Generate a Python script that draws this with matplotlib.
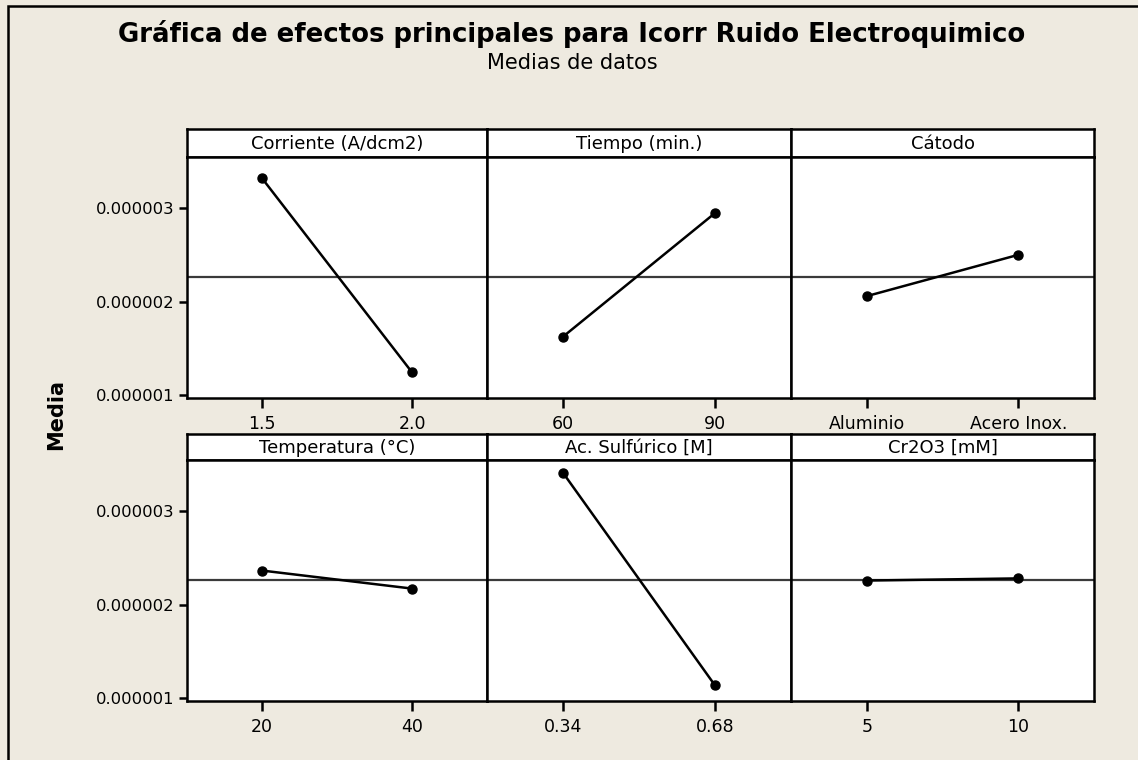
import matplotlib.pyplot as plt
from matplotlib.patches import Rectangle

# main effects data
factors = ["Corriente (A/dcm2)", "Tiempo (min.)", "Cátodo",
           "Temperatura (°C)", "Ac. Sulfúrico [M]", "Cr2O3 [mM]"]
levels = [["1.5", "2.0"], ["60", "90"], ["Aluminio", "Acero Inox."],
          ["20", "40"], ["0.34", "0.68"], ["5", "10"]]
means = [[3.32e-6, 1.243e-6], [1.624e-6, 2.947e-6], [2.058e-6, 2.50e-6],
         [2.364e-6, 2.171e-6], [3.41e-6, 1.135e-6], [2.257e-6, 2.28e-6]]
grand_mean = 2.26e-6
yticks = [1e-6, 2e-6, 3e-6]
ytick_labels = ["0.000001", "0.000002", "0.000003"]

W, H = 1138, 760
BG = "#EEEAE0"
plt.rcParams["font.family"] = "DejaVu Sans"

fig = plt.figure(figsize=(W / 100, H / 100), dpi=100, facecolor=BG)


def box(x0, y0, x1, y1):
    # pixel box (top-left origin) -> figure fraction rect
    return [x0 / W, 1 - y1 / H, (x1 - x0) / W, (y1 - y0) / H]


# outer frame (runs off the right/bottom edge like the original)
fig.add_artist(Rectangle((8 / W, -0.1), 1.2, 1 - 6 / H + 0.1, transform=fig.transFigure,
                         fill=False, edgecolor="black", linewidth=1.8))

fig.text(572 / W, 1 - 34 / H, "Gráfica de efectos principales para Icorr Ruido Electroquimico",
         ha="center", va="center", fontsize=18.7, fontweight="bold")
fig.text(572 / W, 1 - 63 / H, "Medias de datos", ha="center", va="center", fontsize=15)
fig.text(56 / W, 1 - 414 / H, "Media", ha="center", va="center", rotation=90,
         fontsize=15, fontweight="bold")

cols = [(187, 487), (487, 791), (791, 1094)]
rows = [(129, 157, 398), (434, 460, 701)]
ylim = (0.968e-6, 3.547e-6)

for i, name in enumerate(factors):
    r, c = divmod(i, 3)
    x0, x1 = cols[c]
    htop, ptop, pbot = rows[r]

    # header strip
    hax = fig.add_axes(box(x0, htop, x1, ptop))
    hax.set_xticks([])
    hax.set_yticks([])
    hax.set_facecolor("white")
    for s in hax.spines.values():
        s.set_linewidth(1.8)
    hax.text(0.5, 0.47, name, ha="center", va="center", fontsize=13, transform=hax.transAxes)

    ax = fig.add_axes(box(x0, ptop, x1, pbot))
    ax.set_facecolor("white")
    for s in ax.spines.values():
        s.set_linewidth(1.8)
    ax.axhline(grand_mean, color="#3a3a3a", linewidth=1.6, zorder=1)
    ax.plot([0, 1], means[i], color="black", linewidth=1.8, marker="o",
            markersize=6.5, zorder=3)
    ax.set_xlim(-0.5, 1.5)
    ax.set_ylim(*ylim)
    ax.set_xticks([0, 1])
    ax.set_xticklabels(levels[i], fontsize=12.5)
    ax.tick_params(axis="x", length=7, width=1.8, pad=5)
    ax.set_yticks(yticks)
    if c == 0:
        ax.set_yticklabels(ytick_labels, fontsize=11.8)
        ax.tick_params(axis="y", length=6, width=1.8, pad=3)
    else:
        ax.tick_params(axis="y", length=0, labelleft=False)

fig.savefig("out.png", dpi=100, facecolor=BG)
